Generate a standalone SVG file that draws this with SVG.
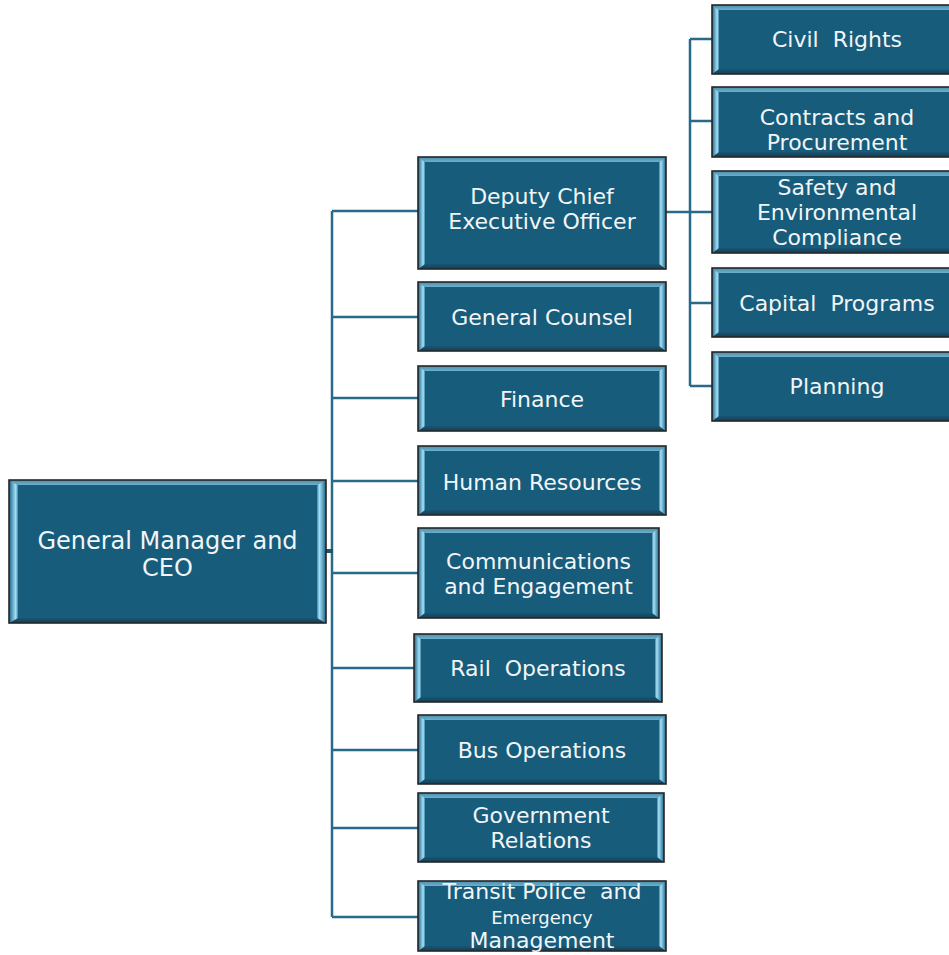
<svg xmlns="http://www.w3.org/2000/svg" width="949" height="955" viewBox="0 0 949 955">
  <defs>
    <linearGradient id="gL" x1="0" y1="0" x2="1" y2="0">
      <stop offset="0" stop-color="#1f5f7d"/>
      <stop offset="0.35" stop-color="#5b9fbe"/>
      <stop offset="0.75" stop-color="#a6e1f7"/>
      <stop offset="1" stop-color="#3c84a5"/>
    </linearGradient>
    <linearGradient id="gR" x1="1" y1="0" x2="0" y2="0">
      <stop offset="0" stop-color="#1f5f7d"/>
      <stop offset="0.35" stop-color="#5b9fbe"/>
      <stop offset="0.75" stop-color="#a6e1f7"/>
      <stop offset="1" stop-color="#3c84a5"/>
    </linearGradient>
    <linearGradient id="gT" x1="0" y1="0" x2="0" y2="1">
      <stop offset="0" stop-color="#4a8fae"/>
      <stop offset="1" stop-color="#6eb0cc"/>
    </linearGradient>
    <linearGradient id="gB" x1="0" y1="0" x2="0" y2="1">
      <stop offset="0" stop-color="#1a5573"/>
      <stop offset="1" stop-color="#113f57"/>
    </linearGradient>
    <style>
      .base { fill: #2f7697; }
      .top { fill: url(#gT); }
      .bot { fill: url(#gB); }
      .lft { fill: url(#gL); }
      .rgt { fill: url(#gR); }
      .face { fill: #175c7b; }
      .frame { fill: none; stroke: #262626; stroke-width: 1.6; }
      .t { font-family: "DejaVu Sans", Verdana, sans-serif; font-size: 22px; fill: #f1f5f7; text-anchor: middle; white-space: pre; }
      .big { font-size: 24px; }
      .small { font-size: 18px; }
      .link { fill: none; stroke: #2a6a89; stroke-width: 2.5; }
      .stub { fill: none; stroke: #1d5571; stroke-width: 4; }
    </style>
  </defs>

  <!-- reporting lines -->
  <g id="connectors">
    <path class="link" d="M332 211V917"/>
    <path class="link" d="M332 211H418M332 317H418M332 398H418M332 481H418M332 573H418M332 668H414M332 750H418M332 828H418M332 917H418"/>
    <path class="stub" d="M326 551H333"/>
    <path class="link" d="M690 39V386"/>
    <path class="link" d="M666 212H712M690 39H712M690 121H712M690 303H712M690 386H712"/>
  </g>

  <!-- top level -->
  <g id="gm" transform="translate(9,480)">
    <rect class="base" width="317" height="143"/>
    <path class="top" d="M0 0H317L308 5H9Z"/>
    <path class="bot" d="M0 143H317L308 138H9Z"/>
    <path class="lft" d="M0 0L9 5V138L0 143Z"/>
    <path class="rgt" d="M317 0L308 5V138L317 143Z"/>
    <rect class="face" x="9" y="5" width="299" height="133"/>
    <rect class="frame" width="317" height="143"/>
    <text class="t big" x="158.5" y="69">General Manager and</text>
    <text class="t big" x="158.5" y="96">CEO</text>
  </g>

  <!-- direct reports -->
  <g id="dceo" transform="translate(418,157)">
    <rect class="base" width="248" height="112"/>
    <path class="top" d="M0 0H248L241 5H7Z"/>
    <path class="bot" d="M0 112H248L241 107H7Z"/>
    <path class="lft" d="M0 0L7 5V107L0 112Z"/>
    <path class="rgt" d="M248 0L241 5V107L248 112Z"/>
    <rect class="face" x="7" y="5" width="234" height="102"/>
    <rect class="frame" width="248" height="112"/>
    <text class="t" x="124" y="47">Deputy Chief</text>
    <text class="t" x="124" y="72">Executive Officer</text>
  </g>

  <g id="gc" transform="translate(418,282)">
    <rect class="base" width="248" height="69"/>
    <path class="top" d="M0 0H248L241 5H7Z"/>
    <path class="bot" d="M0 69H248L241 64H7Z"/>
    <path class="lft" d="M0 0L7 5V64L0 69Z"/>
    <path class="rgt" d="M248 0L241 5V64L248 69Z"/>
    <rect class="face" x="7" y="5" width="234" height="59"/>
    <rect class="frame" width="248" height="69"/>
    <text class="t" x="124" y="43">General Counsel</text>
  </g>

  <g id="finance" transform="translate(418,366)">
    <rect class="base" width="248" height="65"/>
    <path class="top" d="M0 0H248L241 5H7Z"/>
    <path class="bot" d="M0 65H248L241 60H7Z"/>
    <path class="lft" d="M0 0L7 5V60L0 65Z"/>
    <path class="rgt" d="M248 0L241 5V60L248 65Z"/>
    <rect class="face" x="7" y="5" width="234" height="55"/>
    <rect class="frame" width="248" height="65"/>
    <text class="t" x="124" y="41">Finance</text>
  </g>

  <g id="hr" transform="translate(418,446)">
    <rect class="base" width="248" height="69"/>
    <path class="top" d="M0 0H248L241 5H7Z"/>
    <path class="bot" d="M0 69H248L241 64H7Z"/>
    <path class="lft" d="M0 0L7 5V64L0 69Z"/>
    <path class="rgt" d="M248 0L241 5V64L248 69Z"/>
    <rect class="face" x="7" y="5" width="234" height="59"/>
    <rect class="frame" width="248" height="69"/>
    <text class="t" x="124" y="44">Human Resources</text>
  </g>

  <g id="comms" transform="translate(418,528)">
    <rect class="base" width="241" height="90"/>
    <path class="top" d="M0 0H241L234 5H7Z"/>
    <path class="bot" d="M0 90H241L234 85H7Z"/>
    <path class="lft" d="M0 0L7 5V85L0 90Z"/>
    <path class="rgt" d="M241 0L234 5V85L241 90Z"/>
    <rect class="face" x="7" y="5" width="227" height="80"/>
    <rect class="frame" width="241" height="90"/>
    <text class="t" x="120.5" y="41">Communications</text>
    <text class="t" x="120.5" y="66">and Engagement</text>
  </g>

  <g id="rail" transform="translate(414,634)">
    <rect class="base" width="248" height="68"/>
    <path class="top" d="M0 0H248L241 5H7Z"/>
    <path class="bot" d="M0 68H248L241 63H7Z"/>
    <path class="lft" d="M0 0L7 5V63L0 68Z"/>
    <path class="rgt" d="M248 0L241 5V63L248 68Z"/>
    <rect class="face" x="7" y="5" width="234" height="58"/>
    <rect class="frame" width="248" height="68"/>
    <text class="t" x="124" y="42">Rail  Operations</text>
  </g>

  <g id="bus" transform="translate(418,715)">
    <rect class="base" width="248" height="69"/>
    <path class="top" d="M0 0H248L241 5H7Z"/>
    <path class="bot" d="M0 69H248L241 64H7Z"/>
    <path class="lft" d="M0 0L7 5V64L0 69Z"/>
    <path class="rgt" d="M248 0L241 5V64L248 69Z"/>
    <rect class="face" x="7" y="5" width="234" height="59"/>
    <rect class="frame" width="248" height="69"/>
    <text class="t" x="124" y="43">Bus Operations</text>
  </g>

  <g id="gov" transform="translate(418,793)">
    <rect class="base" width="246" height="69"/>
    <path class="top" d="M0 0H246L239 5H7Z"/>
    <path class="bot" d="M0 69H246L239 64H7Z"/>
    <path class="lft" d="M0 0L7 5V64L0 69Z"/>
    <path class="rgt" d="M246 0L239 5V64L246 69Z"/>
    <rect class="face" x="7" y="5" width="232" height="59"/>
    <rect class="frame" width="246" height="69"/>
    <text class="t" x="123" y="30">Government</text>
    <text class="t" x="123" y="55">Relations</text>
  </g>

  <g id="police" transform="translate(418,881)">
    <rect class="base" width="248" height="70"/>
    <path class="top" d="M0 0H248L241 5H7Z"/>
    <path class="bot" d="M0 70H248L241 65H7Z"/>
    <path class="lft" d="M0 0L7 5V65L0 70Z"/>
    <path class="rgt" d="M248 0L241 5V65L248 70Z"/>
    <rect class="face" x="7" y="5" width="234" height="60"/>
    <rect class="frame" width="248" height="70"/>
    <text class="t" x="124" y="18">Transit Police  and</text>
    <text class="t small" x="124" y="43">Emergency</text>
    <text class="t" x="124" y="67">Management</text>
  </g>

  <!-- deputy CEO reports -->
  <g id="civil" transform="translate(712,5)">
    <rect class="base" width="250" height="69"/>
    <path class="top" d="M0 0H250L243 5H7Z"/>
    <path class="bot" d="M0 69H250L243 64H7Z"/>
    <path class="lft" d="M0 0L7 5V64L0 69Z"/>
    <path class="rgt" d="M250 0L243 5V64L250 69Z"/>
    <rect class="face" x="7" y="5" width="236" height="59"/>
    <rect class="frame" width="250" height="69"/>
    <text class="t" x="125" y="42">Civil  Rights</text>
  </g>

  <g id="contracts" transform="translate(712,87)">
    <rect class="base" width="250" height="70"/>
    <path class="top" d="M0 0H250L243 5H7Z"/>
    <path class="bot" d="M0 70H250L243 65H7Z"/>
    <path class="lft" d="M0 0L7 5V65L0 70Z"/>
    <path class="rgt" d="M250 0L243 5V65L250 70Z"/>
    <rect class="face" x="7" y="5" width="236" height="60"/>
    <rect class="frame" width="250" height="70"/>
    <text class="t" x="125" y="38">Contracts and</text>
    <text class="t" x="125" y="63">Procurement</text>
  </g>

  <g id="safety" transform="translate(712,171)">
    <rect class="base" width="250" height="82"/>
    <path class="top" d="M0 0H250L243 5H7Z"/>
    <path class="bot" d="M0 82H250L243 77H7Z"/>
    <path class="lft" d="M0 0L7 5V77L0 82Z"/>
    <path class="rgt" d="M250 0L243 5V77L250 82Z"/>
    <rect class="face" x="7" y="5" width="236" height="72"/>
    <rect class="frame" width="250" height="82"/>
    <text class="t" x="125" y="24">Safety and</text>
    <text class="t" x="125" y="49">Environmental</text>
    <text class="t" x="125" y="74">Compliance</text>
  </g>

  <g id="capital" transform="translate(712,268)">
    <rect class="base" width="250" height="69"/>
    <path class="top" d="M0 0H250L243 5H7Z"/>
    <path class="bot" d="M0 69H250L243 64H7Z"/>
    <path class="lft" d="M0 0L7 5V64L0 69Z"/>
    <path class="rgt" d="M250 0L243 5V64L250 69Z"/>
    <rect class="face" x="7" y="5" width="236" height="59"/>
    <rect class="frame" width="250" height="69"/>
    <text class="t" x="125" y="43">Capital  Programs</text>
  </g>

  <g id="planning" transform="translate(712,352)">
    <rect class="base" width="250" height="69"/>
    <path class="top" d="M0 0H250L243 5H7Z"/>
    <path class="bot" d="M0 69H250L243 64H7Z"/>
    <path class="lft" d="M0 0L7 5V64L0 69Z"/>
    <path class="rgt" d="M250 0L243 5V64L250 69Z"/>
    <rect class="face" x="7" y="5" width="236" height="59"/>
    <rect class="frame" width="250" height="69"/>
    <text class="t" x="125" y="42">Planning</text>
  </g>
</svg>
